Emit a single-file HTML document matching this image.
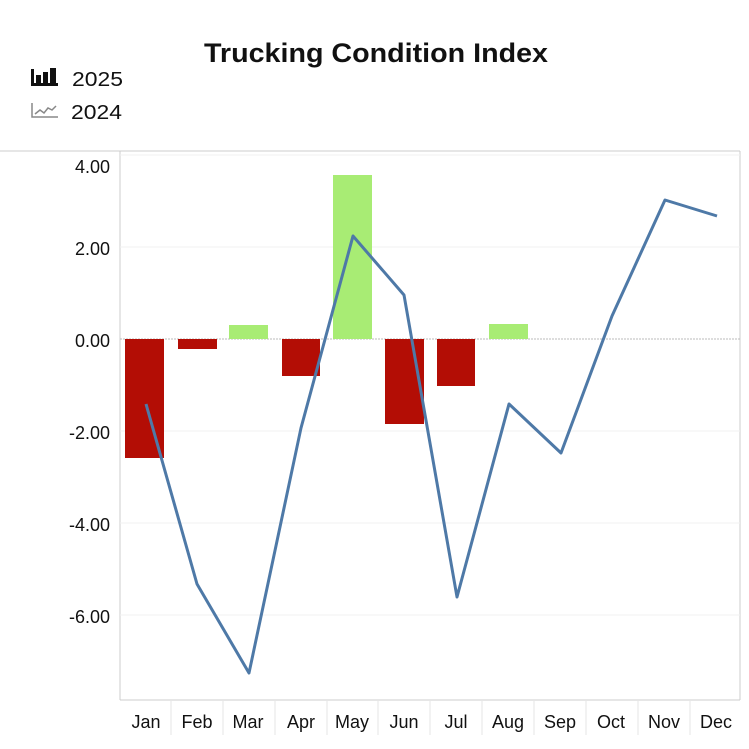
<!DOCTYPE html>
<html><head><meta charset="utf-8"><style>
body{margin:0;background:#fff;}
svg{display:block;font-family:"Liberation Sans",sans-serif;}
</style></head><body>
<svg width="749" height="749" viewBox="0 0 749 749">
<text x="376" y="62" text-anchor="middle" font-size="27" font-weight="bold" fill="#111" textLength="344" lengthAdjust="spacingAndGlyphs">Trucking Condition Index</text>
<!-- legend -->
<g fill="#111">
<rect x="31" y="69" width="3" height="17"/><rect x="31" y="83" width="27" height="3"/>
<rect x="36" y="75" width="5" height="9"/><rect x="43" y="72" width="5" height="12"/><rect x="50" y="68" width="6" height="16"/>
</g>
<text x="72" y="86" font-size="20" fill="#111" textLength="51" lengthAdjust="spacingAndGlyphs">2025</text>
<g stroke="#888" fill="none" stroke-width="1.5">
<path d="M32 103 V117 H58"/><path d="M35 114 L40 110 L44 113 L48 108 L52 110 L56 106"/>
</g>
<text x="71" y="119" font-size="20" fill="#111" textLength="51" lengthAdjust="spacingAndGlyphs">2024</text>
<!-- frame -->
<line x1="0" y1="151" x2="740" y2="151" stroke="#ccc"/>
<line x1="120" y1="151" x2="120" y2="700" stroke="#ccc"/>
<line x1="740" y1="151" x2="740" y2="700" stroke="#ccc"/>
<line x1="120" y1="700" x2="740" y2="700" stroke="#ccc"/>
<g stroke="#f0f0f0">
<line x1="120" y1="247" x2="740" y2="247"/><line x1="120" y1="431" x2="740" y2="431"/>
<line x1="120" y1="523" x2="740" y2="523"/><line x1="120" y1="615" x2="740" y2="615"/>
<line x1="120" y1="155" x2="740" y2="155"/>
</g>
<g stroke="#e6e6e6">
<line x1="171" y1="700" x2="171" y2="735"/><line x1="223" y1="700" x2="223" y2="735"/><line x1="275" y1="700" x2="275" y2="735"/>
<line x1="327" y1="700" x2="327" y2="735"/><line x1="378" y1="700" x2="378" y2="735"/><line x1="430" y1="700" x2="430" y2="735"/>
<line x1="482" y1="700" x2="482" y2="735"/><line x1="534" y1="700" x2="534" y2="735"/><line x1="586" y1="700" x2="586" y2="735"/>
<line x1="638" y1="700" x2="638" y2="735"/><line x1="690" y1="700" x2="690" y2="735"/>
</g>
<line x1="120" y1="339" x2="740" y2="339" stroke="#bbb" stroke-dasharray="2,1"/>
<g font-size="18" fill="#111" text-anchor="end">
<text x="110" y="173">4.00</text><text x="110" y="255">2.00</text><text x="110" y="347">0.00</text>
<text x="110" y="439">-2.00</text><text x="110" y="531">-4.00</text><text x="110" y="623">-6.00</text>
</g>
<!-- bars -->
<g fill="#b30d05">
<rect x="125" y="339" width="39" height="119"/><rect x="178" y="339" width="39" height="10"/>
<rect x="282" y="339" width="38" height="37"/><rect x="385" y="339" width="39" height="85"/>
<rect x="437" y="339" width="38" height="47"/>
</g>
<g fill="#a8ec74">
<rect x="229" y="325" width="39" height="14"/><rect x="333" y="175" width="39" height="164"/>
<rect x="489" y="324" width="39" height="15"/>
</g>
<polyline fill="none" stroke="#4e79a7" stroke-width="3" stroke-linejoin="round" points="146,404 197,584 249,673 301,428 353,236 404,295 457,597 509,404 561,453 612,316 665,200 717,216"/>
<g font-size="18" fill="#111" text-anchor="middle">
<text x="146" y="728">Jan</text><text x="197" y="728">Feb</text><text x="248" y="728">Mar</text><text x="301" y="728">Apr</text>
<text x="352" y="728">May</text><text x="404" y="728">Jun</text><text x="456" y="728">Jul</text><text x="508" y="728">Aug</text>
<text x="560" y="728">Sep</text><text x="611" y="728">Oct</text><text x="664" y="728">Nov</text><text x="716" y="728">Dec</text>
</g>
</svg>
</body></html>
